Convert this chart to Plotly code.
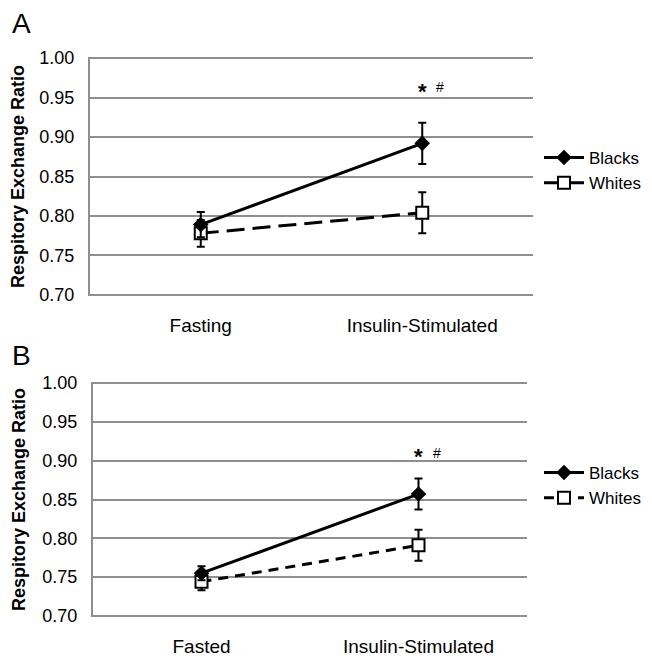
import plotly.graph_objects as go

# ---- data ----
cats_a = ["Fasting", "Insulin-Stimulated"]
cats_b = ["Fasted", "Insulin-Stimulated"]
blacks_a = [0.789, 0.892]
blacks_a_err = [0.016, 0.026]
whites_a = [0.778, 0.804]
whites_a_err = [0.017, 0.026]
blacks_b = [0.755, 0.857]
blacks_b_err = [0.009, 0.020]
whites_b = [0.744, 0.791]
whites_b_err = [0.011, 0.020]
y_ticks = [0.70, 0.75, 0.80, 0.85, 0.90, 0.95, 1.00]
y_ticktext = ["0.70", "0.75", "0.80", "0.85", "0.90", "0.95", "1.00"]
sig_a_y = 0.962
sig_b_y = 0.909

FONT = "Liberation Sans, Arial, sans-serif"
GRID = "#8f8f8f"

# page body has an 8px margin; map screen pixels to paper fractions
OFF = 8
W, H = 652 - OFF, 658 - OFF
def px(x):
    return (x - OFF) / W
def py(y):
    return 1 - (y - OFF) / H

fig = go.Figure()

def add_panel(xa, ya, legend, x_idx, whites, werr, blacks, berr, dash):
    fig.add_trace(go.Scatter(
        x=x_idx, y=whites, mode="lines+markers", name="Whites",
        xaxis=xa, yaxis=ya, legend=legend, legendrank=2,
        line=dict(color="black", width=3, dash=dash),
        marker=dict(symbol="square", size=12, color="white",
                    line=dict(color="black", width=2)),
        error_y=dict(type="data", array=werr, color="black", thickness=2, width=4),
        cliponaxis=False,
    ))
    fig.add_trace(go.Scatter(
        x=x_idx, y=blacks, mode="lines+markers", name="Blacks",
        xaxis=xa, yaxis=ya, legend=legend, legendrank=1,
        line=dict(color="black", width=3),
        marker=dict(symbol="diamond", size=12, color="black"),
        error_y=dict(type="data", array=berr, color="black", thickness=2, width=4),
        cliponaxis=False,
    ))

add_panel("x", "y", "legend", [0, 1], whites_a, whites_a_err, blacks_a, blacks_a_err, "18px,8px")
add_panel("x2", "y2", "legend2", [0, 1], whites_b, whites_b_err, blacks_b, blacks_b_err, "10px,7px")

yaxis_common = dict(
    range=[0.6985, 1.0015], tickvals=y_ticks, ticktext=y_ticktext,
    showgrid=True, gridcolor=GRID, gridwidth=2,
    showline=True, linecolor=GRID, linewidth=2,
    zeroline=False, ticks="", ticklabelstandoff=10, automargin=False,
    tickfont=dict(family=FONT, size=18, color="black"),
    title=dict(text="<b>Respitory Exchange Ratio</b>",
               font=dict(family=FONT, size=18, color="black"), standoff=12),
)
xaxis_common = dict(
    range=[-0.5, 1.5], showgrid=False, showline=False, zeroline=False,
    ticks="", ticklabelstandoff=16, automargin=False,
    tickfont=dict(family=FONT, size=19, color="black"),
)

leg_common = dict(xanchor="left", yanchor="top",
                  font=dict(family=FONT, size=17, color="black"),
                  bgcolor="rgba(0,0,0,0)", tracegroupgap=4, itemwidth=40,
                  borderwidth=0)

fig.update_layout(
    width=W, height=H,
    margin=dict(l=0, r=0, t=0, b=0, autoexpand=False),
    paper_bgcolor="white", plot_bgcolor="white",
    font=dict(family=FONT, color="black"),
    xaxis=dict(xaxis_common, domain=[px(90), px(533)], anchor="y",
               tickvals=[0, 1], ticktext=cats_a),
    yaxis=dict(yaxis_common, domain=[py(296), py(57)], anchor="x"),
    xaxis2=dict(xaxis_common, domain=[px(93), px(527)], anchor="y2",
                tickvals=[0, 1], ticktext=cats_b),
    yaxis2=dict(yaxis_common, domain=[py(617), py(382)], anchor="x2"),
    legend=dict(leg_common, x=px(539), y=py(140)),
    legend2=dict(leg_common, x=px(539), y=py(455)),
    showlegend=True,
)

# panel letters
fig.add_annotation(text="A", x=px(10), y=py(24), xref="paper", yref="paper",
                   xanchor="left", yanchor="middle", showarrow=False,
                   font=dict(family=FONT, size=28, color="black"))
fig.add_annotation(text="B", x=px(10), y=py(355), xref="paper", yref="paper",
                   xanchor="left", yanchor="middle", showarrow=False,
                   font=dict(family=FONT, size=28, color="black"))

# significance marks
for xa, ya, yv in [("x", "y", sig_a_y), ("x2", "y2", sig_b_y)]:
    fig.add_annotation(text="<b>*</b>", x=1, y=yv, xref=xa, yref=ya, showarrow=False,
                       xanchor="center", yanchor="middle", yshift=-3,
                       font=dict(family=FONT, size=22, color="black"))
    fig.add_annotation(text="#", x=1, y=yv, xref=xa, yref=ya, showarrow=False,
                       xanchor="center", yanchor="middle", xshift=18, yshift=1,
                       font=dict(family=FONT, size=14, color="black"))

fig.write_html("out.html")
